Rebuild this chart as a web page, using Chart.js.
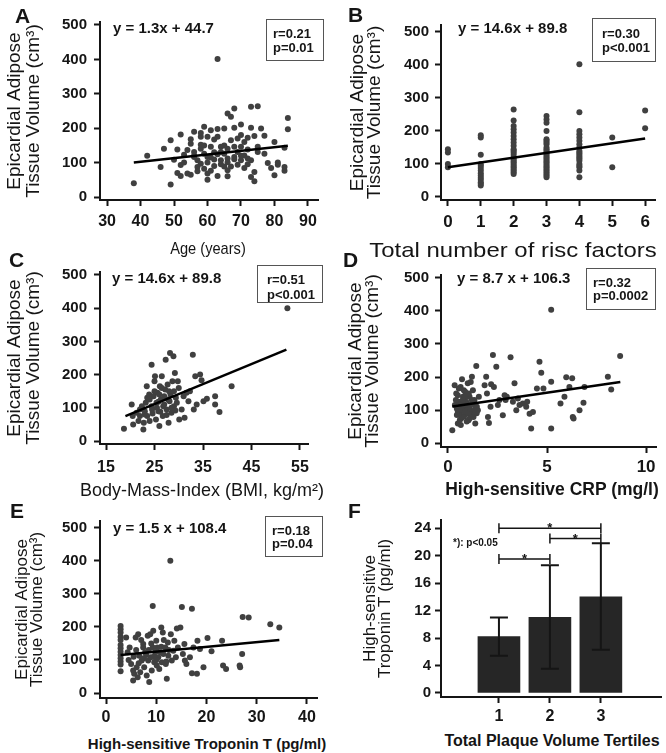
<!DOCTYPE html>
<html>
<head>
<meta charset="utf-8">
<script src="https://cdn.jsdelivr.net/npm/chart.js@4.4.0/dist/chart.umd.min.js"></script>
<style>
  html,body{margin:0;padding:0;background:#fff;}
  body{width:666px;height:753px;overflow:hidden;position:relative;font-family:"Liberation Sans",Arial,sans-serif;color:#151515;}
  canvas{position:absolute;}
  .t{position:absolute;font-weight:bold;white-space:nowrap;z-index:5;}
  .letter{font-size:21px;line-height:21px;}
  .eq{font-size:15px;line-height:15px;}
  .box{position:absolute;z-index:5;border:1.5px solid #555;box-sizing:border-box;font-weight:bold;font-size:13px;white-space:nowrap;}
  .note{font-size:10px;line-height:10px;}
  .xt{position:absolute;width:400px;text-align:center;white-space:nowrap;z-index:5;color:#151515;transform-origin:50% 50%;}
</style>
</head>
<body>
<div class="t letter" style="left:15px;top:5px">A</div>
<div class="t letter" style="left:348px;top:4px">B</div>
<div class="t letter" style="left:9px;top:249px">C</div>
<div class="t letter" style="left:343px;top:249px">D</div>
<div class="t letter" style="left:10px;top:500px">E</div>
<div class="t letter" style="left:348px;top:500px">F</div>

<div class="t eq" style="left:113px;top:19.5px">y = 1.3x + 44.7</div>
<div class="t eq" style="left:458px;top:19.5px">y = 14.6x + 89.8</div>
<div class="t eq" style="left:112px;top:270px">y = 14.6x + 89.8</div>
<div class="t eq" style="left:457px;top:269.5px">y = 8.7 x + 106.3</div>
<div class="t eq" style="left:113px;top:519.5px">y = 1.5 x + 108.4</div>

<div class="box" style="left:266px;top:19px;width:58px;height:42px;padding:7px 0 0 6px;line-height:14px">r=0.21<br>p=0.01</div>
<div class="box" style="left:592px;top:18px;width:64px;height:44px;padding:8px 0 0 9px;line-height:14px">r=0.30<br>p&lt;0.001</div>
<div class="box" style="left:257px;top:265px;width:66px;height:38px;padding:6px 0 0 9px;line-height:15px">r=0.51<br>p&lt;0.001</div>
<div class="box" style="left:586px;top:268px;width:70px;height:42px;padding:7px 0 0 6px;line-height:13px">r=0.32<br>p=0.0002</div>
<div class="box" style="left:265px;top:516px;width:58px;height:41px;padding:7px 0 0 6px;line-height:13px">r=0.18<br>p=0.04</div>

<div class="t note" style="left:453px;top:538px">*): p&lt;0.05</div>

<div class="xt" style="left:8px;top:239.5px;font-size:17px;line-height:17px;transform:scaleX(0.86)">Age (years)</div>
<div class="xt" style="left:313px;top:238.5px;font-size:21px;line-height:21px;transform:scaleX(1.14)">Total number of risc factors</div>
<div class="xt" style="left:2px;top:481px;font-size:18px;line-height:18px">Body-Mass-Index (BMI, kg/m&#178;)</div>
<div class="xt" style="left:352px;top:481px;font-size:17.5px;line-height:17.5px;font-weight:bold">High-sensitive CRP (mg/l)</div>
<div class="xt" style="left:7px;top:735.5px;font-size:15px;line-height:15px;font-weight:bold">High-sensitive Troponin T (pg/ml)</div>
<div class="xt" style="left:352px;top:733px;font-size:16px;line-height:16px;font-weight:bold">Total Plaque Volume Tertiles</div>

<script>
// ---------------- DATA ----------------
// Panel A: age (years) vs epicardial adipose tissue volume (cm3)
const ageEatPoints = [[38,40],[42,120],[46,87],[47,140],[49,36],[49,165],[50,108],[51,138],[51,70],[52,61],[52,182],[52,93],[53,123],[54,137],[54,68],[55,168],[55,155],[55,65],[56,116],[56,190],[56,131],[57,107],[57,87],[58,97],[58,175],[58,152],[58,186],[59,204],[59,126],[59,82],[60,68],[60,50],[60,175],[60,116],[61,194],[61,146],[61,76],[62,109],[62,167],[62,90],[63,124],[63,175],[63,401],[63,198],[63,61],[64,146],[64,107],[64,131],[65,199],[65,89],[65,126],[66,78],[66,60],[66,243],[66,112],[66,101],[67,233],[67,89],[68,146],[68,257],[68,201],[68,116],[69,131],[69,94],[69,170],[70,107],[70,211],[70,180],[70,146],[71,84],[71,160],[71,121],[72,172],[72,138],[72,112],[73,201],[73,262],[73,58],[73,107],[74,46],[74,73],[74,177],[75,264],[75,131],[75,146],[76,199],[77,178],[77,126],[78,99],[79,84],[80,160],[80,63],[81,94],[81,100],[83,143],[83,87],[83,76],[84,230],[84,197],[56,120],[58,140],[60,100],[62,130],[64,95],[66,140],[68,110],[70,120],[72,95],[57,75],[61,115],[65,150],[53,100],[67,165],[59,150]];
const ageFitLine = [[38,100],[84,149]];
const ageTicks = [30,40,50,60,70,80,90];

// Panel B: total number of risk factors
const riskCategories = [0,1,2,3,4,5,6];
const eatByRisk = [
  [145,135,100,90],
  [187,180,128,100,95,88,80,72,65,58,52,45,40,35],
  [265,232,215,205,195,185,175,165,155,145,140,135,128,120,115,110,105,100,95,90,85,80,75,70],
  [245,235,225,200,175,170,165,160,150,145,140,135,130,125,120,115,110,105,100,95,90,85,80,75,70,65,60],
  [402,257,200,190,180,170,160,150,140,135,130,125,120,115,110,100,95,90,80,60],
  [180,90],
  [262,208]
];
const riskFitLine = [[0,90],[6,177]];

// Panel C: BMI
const bmiEatPoints = [[18.7,37],[20.3,110],[20.5,75],[20.6,50],[21.3,85],[21.7,60],[22,75],[22.4,105],[22.7,35],[22.8,55],[23,90],[23.2,115],[23.4,165],[23.5,75],[23.9,140],[24,60],[24.4,230],[24.4,105],[24.6,83],[24.8,135],[25,180],[25.1,195],[25.3,65],[25.4,115],[25.6,145],[25.8,90],[26,45],[26.1,165],[26.3,125],[26.5,195],[26.7,75],[26.8,105],[27,135],[27.2,155],[27.3,245],[27.5,95],[27.7,170],[27.9,55],[28.1,120],[28.2,265],[28.3,140],[28.5,85],[28.7,180],[28.9,255],[29,105],[29.2,205],[29.4,130],[29.6,115],[29.8,180],[30.1,65],[30.6,95],[31.2,70],[31.6,145],[32,120],[32.3,150],[32.9,260],[33.1,95],[33.4,195],[33.7,110],[34.4,200],[34.7,183],[35.1,120],[35.8,127],[37.5,135],[37.5,110],[38.4,87],[40.9,165],[52.4,400],[24.5,95],[25.5,100],[26.2,88],[27,110],[27.8,125],[28.5,100],[29.3,92],[26,140],[25,150],[23.5,130],[22,95],[24,125],[27.5,78],[29,150],[30,160],[31,135],[28,150],[26.5,160],[25.8,118],[23,80]];
const bmiFitLine = [[19,75],[52.2,275]];
const bmiTicks = [15,25,35,45,55];

// Panel D: hs-CRP (mg/l)
const crpEatPoints = [[0.22,39],[0.34,175],[0.42,150],[0.45,104],[0.5,59],[0.55,125],[0.59,89],[0.64,170],[0.67,74],[0.71,193],[0.76,140],[0.79,110],[0.84,84],[0.87,155],[0.92,125],[0.96,99],[1.0,181],[1.04,69],[1.09,140],[1.13,115],[1.18,89],[1.21,201],[1.26,160],[1.29,79],[1.34,130],[1.38,59],[1.43,233],[1.46,110],[1.51,99],[1.56,140],[1.85,175],[1.93,201],[1.97,150],[2.02,79],[2.07,61],[2.15,110],[2.18,178],[2.27,267],[2.32,170],[2.44,231],[2.52,115],[2.6,130],[2.77,84],[2.86,145],[2.91,130],[2.97,140],[3.16,260],[3.28,125],[3.36,181],[3.45,99],[3.53,135],[3.61,115],[3.78,120],[3.95,110],[4.0,125],[4.12,89],[4.2,44],[4.29,94],[4.49,165],[4.62,246],[4.71,213],[4.82,165],[5.21,44],[5.21,186],[5.21,404],[5.68,120],[5.88,140],[5.97,199],[6.13,170],[6.27,196],[6.3,79],[6.34,74],[6.64,99],[6.84,122],[6.89,170],[8.07,201],[8.24,162],[8.69,264],[0.4,130],[0.5,95],[0.6,110],[0.7,120],[0.8,80],[0.9,100],[1.0,90],[1.1,105],[1.2,130],[0.5,145],[0.6,70],[0.7,100],[0.8,160],[0.9,140],[1.0,115],[1.1,75],[1.3,95],[1.4,110],[0.35,115],[0.45,85],[0.65,55],[0.95,65],[1.15,185],[1.45,90],[0.55,165],[0.75,130],[1.05,150],[1.25,120],[0.85,95],[1.35,100]];
const crpFitLine = [[0.22,111],[8.7,185]];
const crpTicks = [0,5,10];

// Panel E: hs-Troponin T (pg/ml)
const tntEatPoints = [[2.9,203],[2.9,193],[2.9,183],[2.9,170],[2.9,160],[2.9,145],[2.9,135],[2.9,125],[2.9,115],[2.9,105],[2.9,95],[2.9,86],[2.9,66],[4,168],[4.3,123],[4.7,138],[5,88],[5.4,68],[5.4,38],[5.6,58],[5.9,168],[6.1,78],[6.3,48],[6.4,178],[6.6,113],[6.8,63],[7.1,98],[7.4,148],[7.4,138],[7.6,78],[7.8,123],[8.1,53],[8.3,173],[8.4,98],[8.6,33],[8.8,178],[8.9,108],[9.1,68],[9.3,263],[9.3,138],[9.4,188],[9.6,93],[9.8,123],[10,158],[10.1,83],[10.2,138],[10.4,108],[10.6,73],[10.8,123],[11,198],[11.1,93],[11.3,183],[11.4,118],[11.8,138],[11.9,88],[12.1,43],[12.3,153],[12.4,113],[12.8,400],[12.9,178],[13.1,98],[13.4,128],[13.6,158],[13.9,108],[14.1,195],[14.3,138],[14.8,198],[15.1,260],[15.3,118],[15.6,148],[15.7,98],[16,88],[16.7,108],[17.1,255],[17.1,60],[17.4,138],[18.1,58],[18.2,158],[18.7,133],[19.4,78],[20.2,166],[21,126],[23.1,158],[23.3,83],[23.9,73],[26.6,83],[26.7,78],[27.1,118],[27.2,230],[28.4,228],[32.7,208],[34.5,198],[4.5,100],[5.5,110],[6,130],[7,160],[8,115],[9,150],[10,100],[11,140],[12,95],[6.5,90],[7.5,105],[8.5,130],[9.5,110],[11.5,160],[12.5,130]];
const tntFitLine = [[2.9,115],[34.5,160]];
const tntTicks = [0,10,20,30,40];

const eatTicks = [0,100,200,300,400,500];

// Panel F: hs-TnT by plaque volume tertile
const tertiles = [1,2,3];
const tntMean = [8.2,11.0,14.0];
const tntLow = [5.4,3.5,6.3];
const tntHigh = [11.0,18.6,21.8];
const tntBarTicks = [0,4,8,12,16,20,24];
const sigFrom = [1,2,1];
const sigTo = [3,3,2];
const sigLevel = [24.0,22.5,19.5];

// ---------------- RENDERING ----------------
const FONT = '"Liberation Sans", Arial, sans-serif';
const INK = '#151515';
const DOT = '#404040';

function mount(g){
  const c = document.createElement('canvas');
  c.width = g.w; c.height = g.h;
  c.style.left = g.left + 'px'; c.style.top = g.top + 'px';
  c.style.width = g.w + 'px'; c.style.height = g.h + 'px';
  document.body.appendChild(c);
  return c;
}

function axis(min, max, ticks, tickSize, pad){
  return {
    type:'linear', min:min, max:max, offset:false,
    afterBuildTicks: s => { s.ticks = ticks.map(v => ({value:v})); },
    ticks:{color:INK, font:{family:FONT, size:tickSize, weight:'bold'}, padding:pad, callback:v => String(v)},
    grid:{display:true, drawOnChartArea:false, drawTicks:true, tickLength:6, tickWidth:2, tickColor:INK, offset:false},
    border:{display:true, color:INK, width:2}
  };
}

function baseOptions(g, xs, ys){
  xs.afterFit = s => { s.height = g.top + g.h - g.area.b; };
  xs.title = {display:false};
  ys.afterFit = s => { s.width = g.area.l - g.left; };
  ys.title = {display:true, text:g.yt.text, color:INK, font:{family:FONT, size:g.yt.size, weight:'normal', lineHeight:g.yt.lh / g.yt.size}, padding:{top:g.yt.x1 - g.yt.lh / 2, bottom:0}};
  return {
    responsive:false, animation:false, devicePixelRatio:1, events:[],
    layout:{padding:{left:0, top:g.area.t - g.top, right:g.left + g.w - g.area.r, bottom:0}},
    plugins:{legend:{display:false}, tooltip:{enabled:false}},
    scales:{x:xs, y:ys}
  };
}

function toXY(pairs){ return pairs.map(p => ({x:p[0], y:p[1]})); }

function scatterPanel(g, points, fit){
  const cv = mount(g);
  const xs = axis(g.xMin, g.xMax, g.xTicks, g.xTickSize, g.xPad);
  const ys = axis(g.yMin, g.yMax, g.yTicks, 15, g.yPad);
  new Chart(cv, {
    type:'scatter',
    data:{datasets:[
      {type:'line', data:toXY(fit), showLine:true, borderColor:'#000', borderWidth:2.5, pointRadius:0, fill:false, order:0},
      {data:toXY(points), backgroundColor:DOT, borderWidth:0, pointRadius:3, order:1}
    ]},
    options: baseOptions(g, xs, ys)
  });
}

const EAT_TITLE = ['Epicardial Adipose', 'Tissue Volume (cm\u00B3)'];

// A
scatterPanel({left:0, top:0, w:333, h:236, area:{l:100,t:22,r:318,b:200},
  xMin:27.9, xMax:93, xTicks:ageTicks, xTickSize:16, xPad:6.4,
  yMin:-8.7, yMax:508.7, yTicks:eatTicks, yPad:7,
  yt:{text:EAT_TITLE, size:19, lh:19, x1:15}
}, ageEatPoints, ageFitLine);

// B
const riskPoints = [];
riskCategories.forEach((c, i) => eatByRisk[i].forEach(v => riskPoints.push([c, v])));
scatterPanel({left:333, top:0, w:333, h:236, area:{l:441,t:25,r:655,b:200},
  xMin:-0.21, xMax:6.3, xTicks:riskCategories, xTickSize:17, xPad:5.8,
  yMin:-9.1, yMax:521, yTicks:eatTicks, yPad:6,
  yt:{text:EAT_TITLE, size:19, lh:17, x1:25}
}, riskPoints, riskFitLine);

// C
scatterPanel({left:0, top:255, w:333, h:225, area:{l:100,t:272,r:308,b:444},
  xMin:13.76, xMax:56.65, xTicks:bmiTicks, xTickSize:16, xPad:8.4,
  yMin:-9, yMax:509, yTicks:eatTicks, yPad:7,
  yt:{text:EAT_TITLE, size:19, lh:19, x1:15}
}, bmiEatPoints, bmiFitLine);

// D
scatterPanel({left:333, top:255, w:333, h:225, area:{l:441,t:275,r:656,b:447},
  xMin:-0.35, xMax:10.5, xTicks:crpTicks, xTickSize:17, xPad:3.8,
  yMin:-12, yMax:509, yTicks:eatTicks, yPad:6,
  yt:{text:EAT_TITLE, size:19, lh:17, x1:23}
}, crpEatPoints, crpFitLine);

// E
scatterPanel({left:0, top:505, w:333, h:226, area:{l:100,t:520,r:317,b:698},
  xMin:-1.2, xMax:42, xTicks:tntTicks, xTickSize:16, xPad:4.4,
  yMin:-15, yMax:520, yTicks:eatTicks, yPad:7,
  yt:{text:EAT_TITLE, size:17, lh:15.5, x1:22}
}, tntEatPoints, tntFitLine);

// F
const fExtras = {
  id:'fExtras',
  afterDatasetsDraw(chart){
    const {ctx, scales:{x, y}} = chart;
    ctx.save();
    ctx.strokeStyle = INK; ctx.lineWidth = 2;
    tertiles.forEach((t, i) => {
      const px = x.getPixelForValue(t);
      const lo = y.getPixelForValue(tntLow[i]);
      const hi = y.getPixelForValue(tntHigh[i]);
      ctx.beginPath();
      ctx.moveTo(px, lo); ctx.lineTo(px, hi);
      ctx.moveTo(px - 9, lo); ctx.lineTo(px + 9, lo);
      ctx.moveTo(px - 9, hi); ctx.lineTo(px + 9, hi);
      ctx.stroke();
    });
    ctx.lineWidth = 1.5;
    ctx.fillStyle = INK;
    ctx.font = 'bold 13px ' + FONT;
    ctx.textAlign = 'center';
    ctx.textBaseline = 'alphabetic';
    sigFrom.forEach((f, i) => {
      const x1 = x.getPixelForValue(f), x2 = x.getPixelForValue(sigTo[i]);
      const py = y.getPixelForValue(sigLevel[i]);
      ctx.beginPath();
      ctx.moveTo(x1, py); ctx.lineTo(x2, py);
      ctx.moveTo(x1, py - 5); ctx.lineTo(x1, py + 5);
      ctx.moveTo(x2, py - 5); ctx.lineTo(x2, py + 5);
      ctx.stroke();
      ctx.fillText('*', (x1 + x2) / 2, py + 4);
    });
    ctx.restore();
  }
};

(function(){
  const g = {left:333, top:505, w:333, h:226, area:{l:441,t:520,r:661,b:697},
    yt:{text:['High-sensitive','Troponin T (pg/ml)'], size:17, lh:15.5, x1:37}};
  const cv = mount(g);
  const xs = axis(-0.137, 4.18, tertiles, 16, 4.4);
  const ys = axis(-0.6, 25.2, tntBarTicks, 15, 4);
  new Chart(cv, {
    type:'bar',
    data:{datasets:[{data:tertiles.map((t, i) => ({x:t, y:tntMean[i]})), backgroundColor:'#262626', borderWidth:0, barThickness:42, base:0}]},
    options: baseOptions(g, xs, ys),
    plugins:[fExtras]
  });
})();
</script>
</body>
</html>
